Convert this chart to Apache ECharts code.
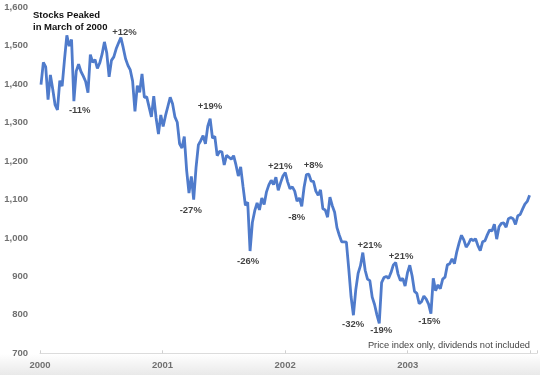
<!DOCTYPE html>
<html>
<head>
<meta charset="utf-8">
<script src="https://cdn.jsdelivr.net/npm/echarts@6/dist/echarts.min.js"></script>
<style>
html,body{margin:0;padding:0;background:#fff;}
#c{width:540px;height:375px;}
</style>
</head>
<body>
<div id="c"></div>
<script>
// Weekly index values, Jan 2000 - Dec 2003
const values2000 = [1399,1457,1445,1360,1424,1387,1346,1333,1409,1395,1464,1527,1499,1516,1356,1434,1452,1433,1421,1407,1378,1477,1457,1464,1441,1455,1478,1510,1481,1419,1462,1471,1492,1507,1521,1495,1466,1449,1437,1408,1329,1396,1379,1427,1366,1367,1341,1315,1369,1312,1270,1320];
const values2001 = [1290,1318,1342,1366,1349,1315,1301,1245,1234,1264,1176,1117,1160,1100,1183,1242,1253,1266,1245,1291,1310,1260,1264,1214,1225,1224,1190,1215,1210,1205,1214,1190,1161,1185,1134,1085,1093,966,1041,1071,1091,1073,1104,1087,1120,1138,1150,1139,1158,1124,1144,1161];
const values2002 = [1170,1146,1128,1133,1122,1096,1104,1082,1132,1165,1166,1148,1147,1122,1111,1125,1076,1073,1054,1106,1084,1067,1027,1007,990,990,989,921,847,799,865,908,928,962,916,893,889,846,827,800,778,884,897,900,895,910,930,936,906,889,895,875];
const values2003 = [909,929,901,861,856,829,834,849,841,828,803,895,863,878,868,893,898,930,933,946,933,964,987,1007,995,976,985,998,993,998,980,967,990,993,1008,1021,1018,1036,997,1029,1038,1039,1028,1050,1053,1050,1035,1058,1061,1075,1088,1095,1111];
const values = values2000.concat(values2001, values2002, values2003);

// Tick labels
const yearLabels = ['2000','2001','2002','2003'];

// Annotations: [year position, value position, text]
const annX = [2000.689, 2000.324, 2001.387, 2001.230, 2001.698, 2001.960, 2002.095, 2002.230, 2002.690, 2002.555, 2002.784, 2002.946, 2003.177];
const annY = [1536, 1333, 1343, 1071, 938, 1187, 1054, 1190, 982, 776, 760, 951, 782];
const annText = ['+12%','-11%','+19%','-27%','-26%','+21%','-8%','+8%','+21%','-32%','-19%','+21%','-15%'];

const peakNote = 'Stocks Peaked\nin March of 2000';
const footNote = 'Price index only, dividends not included';

const seriesData = values.map((v, i) => [2000 + (3 + 7 * i) / 365.25, v]);
const annData = annX.map((x, i) => ({ value: [x, annY[i]], name: annText[i] }));

const font = 'Liberation Sans, Arial, sans-serif';
const chart = echarts.init(document.getElementById('c'), null, { renderer: 'canvas' });
chart.setOption({
  animation: false,
  backgroundColor: '#ffffff',
  grid: { left: 40, right: 0, top: 7.3, bottom: 21.7, containLabel: false },
  xAxis: {
    type: 'value', min: 2000, max: 2004.055, interval: 1,
    axisLine: { show: true, lineStyle: { color: '#dcdcdc', width: 1 } },
    axisTick: { show: true, inside: true, length: 3, lineStyle: { color: '#d0d0d0' } },
    splitLine: { show: false },
    axisLabel: {
      margin: 7, color: '#707070', fontSize: 9.5, fontWeight: 'bold', fontFamily: font,
      formatter: v => { const s = String(Math.round(v)); return yearLabels.indexOf(s) >= 0 ? s : ''; }
    }
  },
  yAxis: {
    type: 'value', min: 700, max: 1600, interval: 100,
    axisLine: { show: false }, axisTick: { show: false }, splitLine: { show: false },
    axisLabel: {
      margin: 12, color: '#707070', fontSize: 9.5, fontWeight: 'bold', fontFamily: font,
      formatter: v => v.toLocaleString('en-US')
    }
  },
  graphic: [
    {
      type: 'rect', z: -10, silent: true,
      shape: { x: 0, y: 354, width: 540, height: 21 },
      style: { fill: new echarts.graphic.LinearGradient(0, 0, 0, 1, [
        { offset: 0, color: '#ffffff' }, { offset: 1, color: '#e9e9e9' }]) }
    },
    {
      type: 'text', left: 33, top: 9, z: 10,
      style: { text: peakNote, fill: '#111', font: 'bold 9.5px ' + font, lineHeight: 12.5 }
    },
    {
      type: 'text', right: 10, top: 341, z: 10,
      style: { text: footNote, fill: '#444', font: '9.3px ' + font }
    }
  ],
  series: [
    {
      type: 'line', data: seriesData, showSymbol: false, symbol: 'none',
      lineStyle: { color: '#4f7bcb', width: 2.8 }, z: 2
    },
    {
      type: 'scatter', data: annData, symbolSize: 0, z: 5,
      label: {
        show: true, position: 'inside', formatter: p => p.name,
        color: '#111', fontSize: 9.5, fontWeight: 'bold', fontFamily: font
      }
    }
  ]
});
</script>
</body>
</html>
